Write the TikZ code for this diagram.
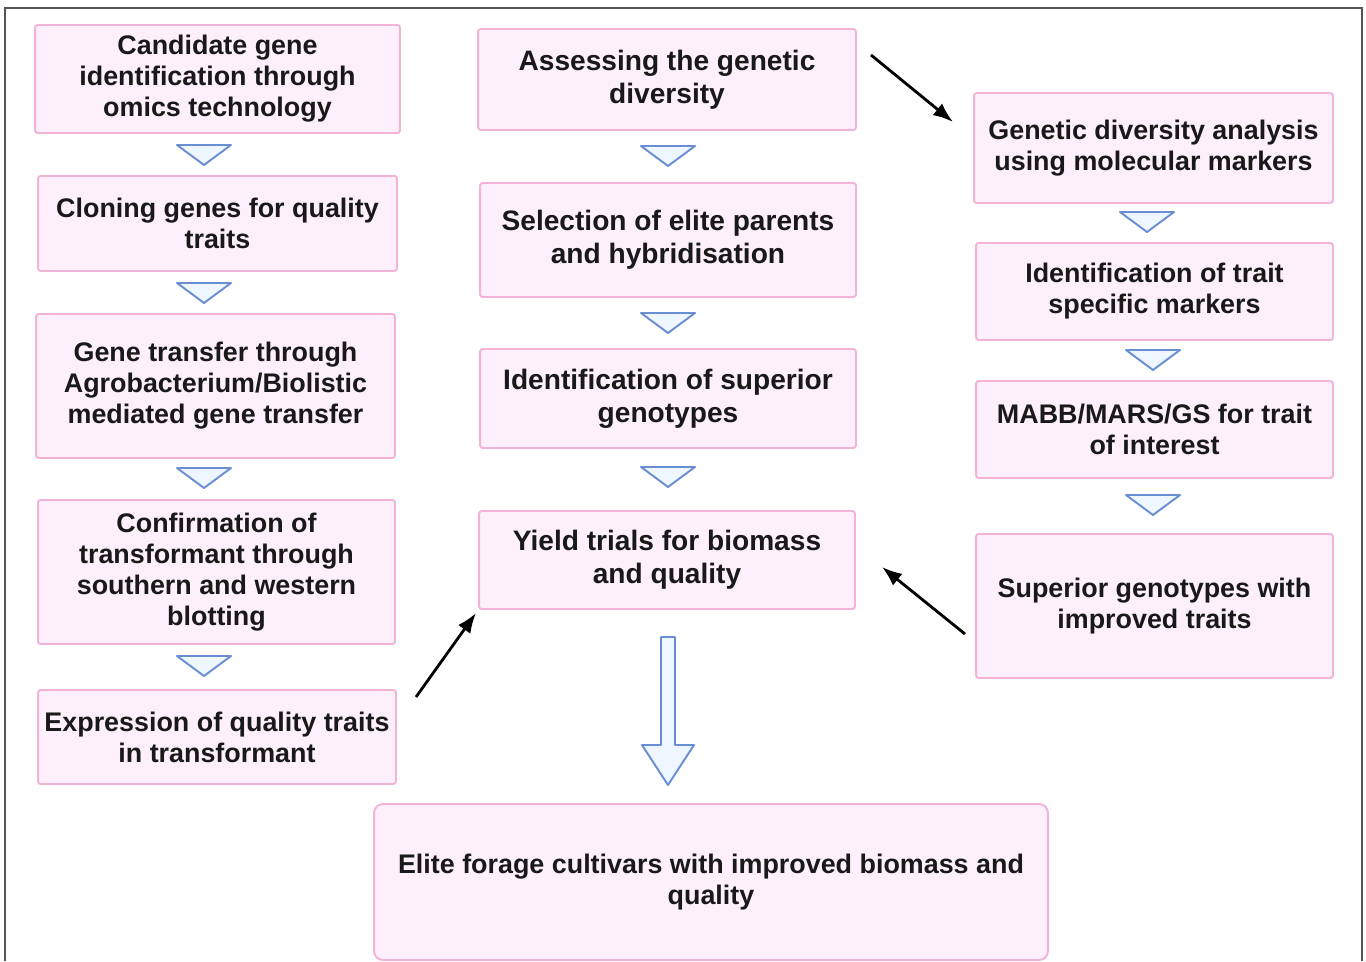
\documentclass[tikz,border=0pt]{standalone}
\usepackage{fontspec}
\setmainfont{Liberation Sans}
\usetikzlibrary{positioning, arrows.meta, calc}
\definecolor{boxfill}{HTML}{FDF0FB}
\definecolor{boxline}{HTML}{F3B3D6}
\definecolor{trifill}{HTML}{EEF6FF}
\definecolor{triline}{HTML}{6A8ED4}
\definecolor{frameline}{HTML}{555555}

\begin{document}
\begin{tikzpicture}[
  x=0.02cm, y=-0.02cm,
  stage/.style={draw=boxline, fill=boxfill, line width=1.1pt, rounded corners=1.5pt,
    align=center, inner sep=0pt, text=black!90,
    font=\bfseries\fontsize{15.3}{17.6}\selectfont},
  bigstage/.style={stage, font=\bfseries\fontsize{16}{18.8}\selectfont},
  gap/.style={draw=triline, fill=trifill, line width=1.1pt, line join=round},
  arrow/.style={-{Latex[length=0.4cm, width=0.3cm]}, line width=1.6pt, black}
]
\useasboundingbox (0,0) rectangle (1366,961);
\draw[frameline, line width=0.9pt] (5,961) -- (5,8) -- (1362,8) -- (1362,961);

% Left column: transgenic route
\node[stage, minimum width=7.3cm, minimum height=2.16cm] (candidate) at (217.5,79)
  {Candidate gene\\identification through\\omics technology};
\node[stage, minimum width=7.18cm, minimum height=1.9cm] (cloning) at (217.5,223.5)
  {Cloning genes for quality\\traits};
\node[stage, minimum width=7.18cm, minimum height=2.88cm] (transfer) at (215.5,386)
  {Gene transfer through\\Agrobacterium/Biolistic\\mediated gene transfer};
\node[stage, minimum width=7.14cm, minimum height=2.88cm] (confirm) at (216.5,572)
  {Confirmation of\\transformant through\\southern and western\\blotting};
\node[stage, minimum width=7.16cm, minimum height=1.88cm] (expression) at (217,737)
  {Expression of quality traits\\in transformant};

% Middle column: conventional breeding
\node[bigstage, minimum width=7.56cm, minimum height=2.02cm] (assess) at (667,79.5)
  {Assessing the genetic\\diversity};
\node[bigstage, minimum width=7.52cm, minimum height=2.28cm] (selection) at (668,240)
  {Selection of elite parents\\and hybridisation};
\node[bigstage, minimum width=7.52cm, minimum height=1.98cm] (superior) at (668,398.5)
  {Identification of superior\\genotypes};
\node[bigstage, minimum width=7.52cm, minimum height=1.96cm] (yield) at (667,560)
  {Yield trials for biomass\\and quality};

% Right column: marker assisted route
\node[stage, minimum width=7.18cm, minimum height=2.2cm] (diversity) at (1153.5,148)
  {Genetic diversity analysis\\using molecular markers};
\node[stage, minimum width=7.14cm, minimum height=1.94cm] (markers) at (1154.5,291.5)
  {Identification of trait\\specific markers};
\node[stage, minimum width=7.14cm, minimum height=1.94cm] (mabb) at (1154.5,429.5)
  {MABB/MARS/GS for trait\\of interest};
\node[stage, minimum width=7.14cm, minimum height=2.88cm] (improved) at (1154.5,606)
  {Superior genotypes with\\improved traits};

% Final product
\node[stage, rounded corners=5pt, minimum width=13.48cm, minimum height=3.12cm] (elite) at (711,882)
  {Elite forage cultivars with improved biomass and\\quality};

% Step triangles
\foreach \tx/\ty in {204/155, 204/293, 204/478, 204/666, 668/156, 668/323, 668/477,
                     1147/222, 1153/360, 1153/505}
  \draw[gap] (\tx-27,\ty-10) -- (\tx+27,\ty-10) -- (\tx,\ty+10) -- cycle;

% Hollow arrow to the final product
\draw[gap] (661,637) -- (675,637) -- (675,745) -- (694,745) -- (668,785)
  -- (642,745) -- (661,745) -- cycle;

% Cross links
\coordinate (assessout) at (871,55);
\coordinate (diversityin) at (953,122);
\coordinate (improvedout) at (965,634);
\coordinate (yieldin) at (882,567);
\coordinate (expressionout) at (416,697);
\coordinate (yieldin2) at (476,613);
\draw[arrow] (assessout) -- (diversityin);
\draw[arrow] (improvedout) -- (yieldin);
\draw[arrow] (expressionout) -- (yieldin2);

\end{tikzpicture}
\end{document}
